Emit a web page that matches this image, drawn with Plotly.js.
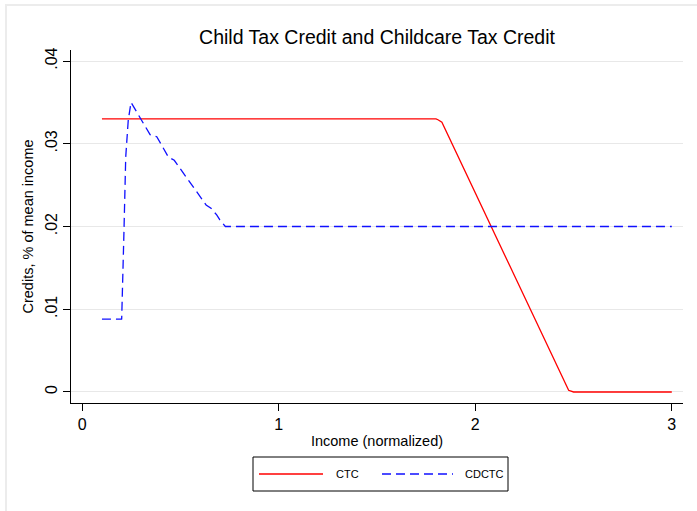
<!DOCTYPE html>
<html>
<head>
<meta charset="utf-8">
<script src="https://cdn.plot.ly/plotly-3.0.1.min.js"></script>
<style>
  html, body { margin: 0; padding: 0; background: #ffffff; }
  #wrap { position: relative; width: 697px; height: 511px; overflow: hidden; }
  #chart { position: absolute; left: 0; top: 0; width: 697px; height: 511px; }
  #frame {
    position: absolute; left: 5px; top: 4px; right: -10px; bottom: -10px;
    border-top: 2px solid #ececec; border-left: 2px solid #ececec;
    pointer-events: none;
  }
</style>
</head>
<body>
<div id="wrap">
  <div id="chart"></div>
  <div id="frame"></div>
</div>
<script>
// Child Tax Credit, by normalized income
const ctcIncome = [0.1, 1.80, 1.81, 1.83, 2.475, 2.50, 3.0];
const ctcCredit = [0.033, 0.033, 0.0329, 0.0326, 0.0002, 0.0, 0.0];

// Child and Dependent Care Tax Credit, by normalized income
const cdctcIncome = [0.1, 0.2, 0.2005, 0.203, 0.212, 0.221, 0.228, 0.234, 0.248,
                     0.345, 0.379, 0.438, 0.468, 0.630, 0.655, 0.684, 0.700, 0.728, 3.0];
const cdctcCredit = [0.0088, 0.0088, 0.0089, 0.012, 0.0194, 0.0284, 0.0312, 0.0329, 0.035,
                     0.0311, 0.03085, 0.0284, 0.0280, 0.0226, 0.0222, 0.0214, 0.0208, 0.0200, 0.0200];

const xTicks = [0, 1, 2, 3];
const xTickText = ["0", "1", "2", "3"];
const yTicks = [0, 0.01, 0.02, 0.03, 0.04];
const yTickText = ["0", ".01", ".02", ".03", ".04"];

const seriesNames = ["CTC", "CDCTC"];
const seriesColors = ["#ff0000", "#1010ff"];

const FONT = "Liberation Sans, Arial, Helvetica, sans-serif";

// plot area in pixels
const W = 697, H = 511;
const L = 71, R = 683, T = 50, B = 403;
const pw = R - L, ph = B - T;
const px = x => (x - L) / pw;     // pixel -> paper x
const py = y => (B - y) / ph;     // pixel -> paper y

const traces = [
  {
    x: ctcIncome, y: ctcCredit, name: seriesNames[0], type: "scatter", mode: "lines",
    line: { color: seriesColors[0], width: 1.3 }, showlegend: false
  },
  {
    x: cdctcIncome, y: cdctcCredit, name: seriesNames[1], type: "scatter", mode: "lines",
    line: { color: seriesColors[1], width: 1.3, dash: "9px,5px" }, showlegend: false
  }
];

// legend key drawn below the axes
const legY = py(474);
const shapes = [
  { type: "rect", xref: "paper", yref: "paper", x0: px(253), x1: px(508), y0: py(491), y1: py(457),
    line: { color: "#000000", width: 1 }, fillcolor: "#ffffff" },
  { type: "line", xref: "paper", yref: "paper", x0: px(259), x1: px(323), y0: legY, y1: legY,
    line: { color: seriesColors[0], width: 1.3 } },
  { type: "line", xref: "paper", yref: "paper", x0: px(382), x1: px(453), y0: legY, y1: legY,
    line: { color: seriesColors[1], width: 1.3, dash: "9px,5px" } }
];
const annotations = [
  { xref: "paper", yref: "paper", x: px(334), y: legY, xanchor: "left", yanchor: "middle",
    text: seriesNames[0], showarrow: false, font: { family: FONT, size: 11, color: "#000" } },
  { xref: "paper", yref: "paper", x: px(463), y: legY, xanchor: "left", yanchor: "middle",
    text: seriesNames[1], showarrow: false, font: { family: FONT, size: 11, color: "#000" } }
];

const layout = {
  width: W, height: H,
  margin: { l: L, r: W - R, t: T, b: H - B, pad: 0 },
  paper_bgcolor: "rgba(0,0,0,0)",
  plot_bgcolor: "#ffffff",
  font: { family: FONT, color: "#000000" },
  title: {
    text: "Child Tax Credit and Childcare Tax Credit",
    x: (L + R) / 2 / W, xanchor: "center",
    y: 1 - 37 / H, yanchor: "middle",
    font: { family: FONT, size: 19.5, color: "#000" }
  },
  xaxis: {
    range: [-0.0575, 3.057],
    tickvals: xTicks, ticktext: xTickText,
    ticks: "outside", ticklen: 7, tickwidth: 1, tickcolor: "#000",
    showline: true, linecolor: "#000", linewidth: 1,
    showgrid: false, zeroline: false,
    tickfont: { family: FONT, size: 16 },
    title: { text: "Income (normalized)", font: { family: FONT, size: 14.5 }, standoff: 3 }
  },
  yaxis: {
    range: [-0.00133, 0.04133],
    tickvals: yTicks, ticktext: yTickText,
    tickangle: -90,
    ticks: "outside", ticklen: 7, tickwidth: 1, tickcolor: "#000",
    showline: true, linecolor: "#000", linewidth: 1,
    showgrid: true, gridcolor: "#e8e8e8", gridwidth: 1, zeroline: false,
    tickfont: { family: FONT, size: 16 },
    title: { text: "Credits, % of mean income", font: { family: FONT, size: 14.5 }, standoff: 5 }
  },
  shapes: shapes,
  annotations: annotations,
  showlegend: false
};

Plotly.newPlot("chart", traces, layout, { staticPlot: true, displayModeBar: false });
</script>
</body>
</html>
